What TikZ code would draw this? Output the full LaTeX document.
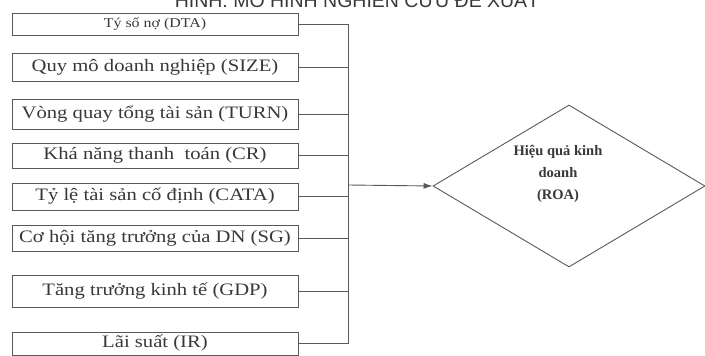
\documentclass[tikz,border=0pt]{standalone}
\usepackage{fontspec}
\usepackage{xcolor}
\usepackage{tikz}
\usetikzlibrary{shapes.geometric,arrows.meta}
\setmainfont{Liberation Serif}
\newfontfamily\widefont[FakeStretch=1.18]{Liberation Serif}
\newfontfamily\titlefont{Liberation Sans}
\definecolor{scanline}{rgb}{0.35,0.35,0.35}
\definecolor{scantext}{rgb}{0.22,0.22,0.22}

\begin{document}
\begin{tikzpicture}[x=1pt,y=-1pt,
    factor/.style={draw=scanline, line width=0.9pt, minimum width=286pt, inner sep=0pt,
                   text=scantext, font=\widefont\fontsize{17.5}{20}\selectfont},
    link/.style={draw=scanline, line width=0.9pt}]
        \useasboundingbox (0,0) rectangle (705,356);
        \clip (0,0) rectangle (705,356);

        % Title (cut by the page edge)
        \node[anchor=base, text=scantext, font=\titlefont\fontsize{19.5}{22}\selectfont] (title) at (357,8) {HÌNH: MÔ HÌNH NGHIÊN CỨU ĐỀ XUẤT};

        % Factor boxes
        \node[factor, minimum height=22pt, font=\widefont\fontsize{13.5}{15}\selectfont] (dta) at (155,24) {Tý số nợ (DTA)};
        \node[factor, minimum height=28pt] (size) at (155,67) {Quy mô doanh nghiệp (SIZE)};
        \node[factor, minimum height=30pt] (turn) at (155,114) {Vòng quay tổng tài sản (TURN)};
        \node[factor, minimum height=25pt] (cr) at (155,155.5) {Khá năng thanh\ \ toán (CR)};
        \node[factor, minimum height=27pt] (cata) at (155,196.5) {Tỷ lệ tài sản cố định (CATA)};
        \node[factor, minimum height=26pt] (sg) at (155,238) {Cơ hội tăng trưởng của DN (SG)};
        \node[factor, minimum height=32pt] (gdp) at (155,291) {Tăng trưởng kinh tế (GDP)};
        \node[factor, minimum height=23pt] (ir) at (155,343.5) {Lãi suất (IR)};

        % Result
        \node[draw=scanline, line width=0.9pt, shape=diamond, minimum width=272pt, minimum height=162pt,
              inner sep=0pt] (roa) at (569,186) {};
        \node[align=center, text=scantext, font=\bfseries\fontsize{14.5}{22}\selectfont] (roatext) at (558,174)
              {Hiệu quả kinh\\doanh\\(ROA)};

        % Collecting line
        \coordinate (bus) at (348,185);
        \draw[link] (dta.east) -- (dta.east -| bus) -- (ir.east -| bus) -- (ir.east);
        \draw[link] (size.east) -- (size.east -| bus);
        \draw[link] (turn.east) -- (turn.east -| bus);
        \draw[link] (cr.east) -- (cr.east -| bus);
        \draw[link] (cata.east) -- (cata.east -| bus);
        \draw[link] (sg.east) -- (sg.east -| bus);
        \draw[link] (gdp.east) -- (gdp.east -| bus);

        % Arrow to result
        \draw[link, -{Latex[length=9pt,width=6pt]}] (bus) -- (roa.west);
    \end{tikzpicture}
\end{document}
